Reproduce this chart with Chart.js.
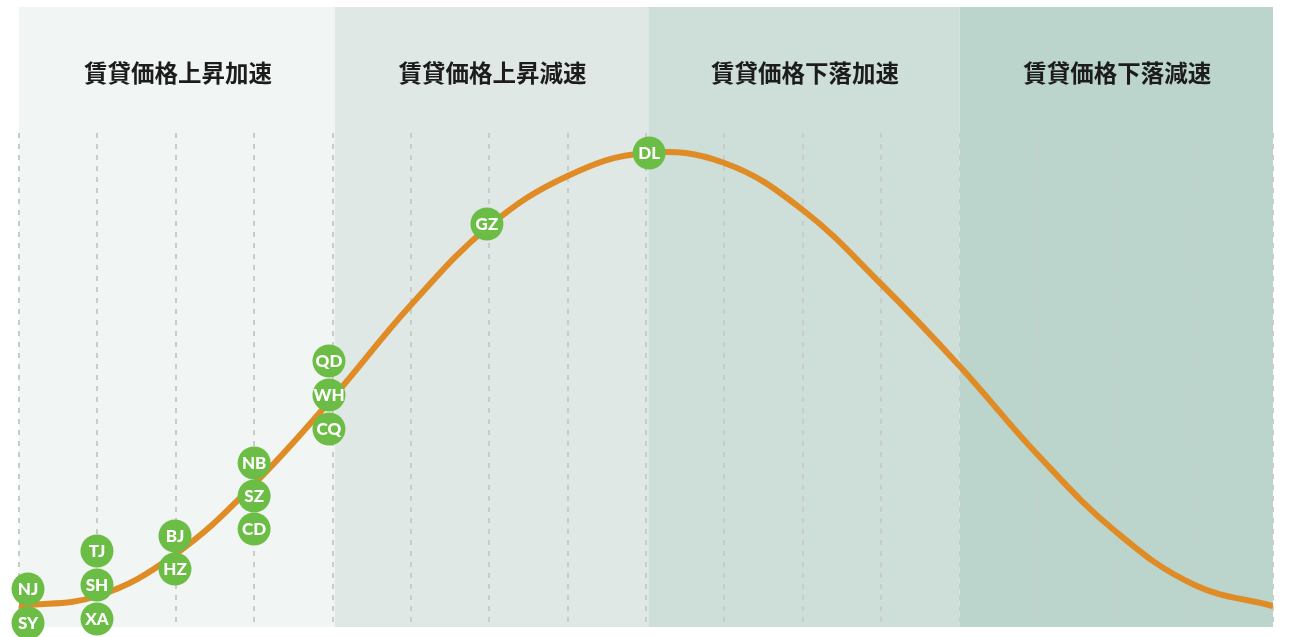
<!DOCTYPE html>
<html>
<head>
<meta charset="utf-8">
<script src="https://cdn.jsdelivr.net/npm/chart.js@4/dist/chart.umd.min.js"></script>
<style>
  html, body { margin: 0; padding: 0; background: #fff; }
  #wrap { width: 1295px; height: 637px; }
</style>
</head>
<body>
<div id="wrap"><canvas id="myChart" width="1295" height="637"></canvas></div>
<script>
// phase bands
const phaseNames = ["賃貸価格上昇加速", "賃貸価格上昇減速", "賃貸価格下落加速", "賃貸価格下落減速"];
const phaseEdges = [0, 4.03, 8.03, 12, 16];
const phaseColors = ["#f1f5f4", "#dfe8e5", "#cedfd9", "#bbd5cc"];

// cycle curve (x step, height)
const curveX = [0, 1, 2, 3, 4, 5, 6, 7, 8, 9, 10, 11, 12, 13, 14, 15, 16];
const curveY = [21, 31, 73, 143, 229, 322, 401, 451, 474, 464, 417, 343, 261, 172, 95, 42, 21];

// cities
const cityCodes = ["NJ", "SY", "TJ", "SH", "XA", "BJ", "HZ", "NB", "SZ", "CD", "QD", "WH", "CQ", "GZ", "DL"];
const cityX = [0.115, 0.115, 0.995, 0.995, 0.995, 1.99, 1.99, 3.0, 3.0, 3.0, 3.955, 3.955, 3.955, 5.97, 8.04];
const cityY = [38, 4, 76, 42, 8, 91, 58, 164, 131, 98, 266, 232, 198, 403, 474];

const ctx = document.getElementById("myChart").getContext("2d");

const bandsPlugin = {
  id: "bands",
  beforeDatasetsDraw(chart) {
    const { ctx, chartArea, scales } = chart;
    const x = scales.x;
    ctx.save();
    for (let i = 0; i < phaseNames.length; i++) {
      const l = x.getPixelForValue(phaseEdges[i]);
      const r = x.getPixelForValue(phaseEdges[i + 1]);
      ctx.fillStyle = phaseColors[i];
      ctx.fillRect(l, chartArea.top, r - l, chartArea.bottom - chartArea.top);
      ctx.fillStyle = "#1c1c1c";
      ctx.font = "bold 23.5px 'Noto Sans CJK JP', 'Noto Sans CJK SC', sans-serif";
      ctx.textAlign = "center";
      ctx.textBaseline = "middle";
      ctx.fillText(phaseNames[i], (l + r) / 2 + 1, 73);
    }
    // dashed grid
    ctx.strokeStyle = "#c8cccb";
    ctx.lineWidth = 2;
    ctx.setLineDash([5, 6]);
    for (let v = 0; v <= 16; v++) {
      const px = Math.round(x.getPixelForValue(v));
      ctx.beginPath();
      ctx.moveTo(px, 133);
      ctx.lineTo(px, chartArea.bottom);
      ctx.stroke();
    }
    ctx.restore();
  },
};

const labelPlugin = {
  id: "cityLabels",
  afterDatasetsDraw(chart) {
    const { ctx } = chart;
    const meta = chart.getDatasetMeta(1);
    ctx.save();
    ctx.fillStyle = "#ffffff";
    ctx.font = "900 17px Lato, 'Open Sans', sans-serif";
    ctx.textAlign = "center";
    ctx.textBaseline = "middle";
    meta.data.forEach((pt, i) => {
      ctx.fillText(cityCodes[i], pt.x, pt.y + 1);
    });
    ctx.restore();
  },
};

new Chart(ctx, {
  type: "line",
  data: {
    datasets: [
      {
        label: "cycle",
        data: curveX.map((v, i) => ({ x: v, y: curveY[i] })),
        borderColor: "#df8c27",
        borderWidth: 6,
        pointRadius: 0,
        fill: false,
        tension: 0.4,
        order: 2,
      },
      {
        label: "cities",
        type: "scatter",
        data: cityX.map((v, i) => ({ x: v, y: cityY[i] })),
        backgroundColor: "#6cbd45",
        borderWidth: 0,
        pointRadius: 16.5,
        pointHoverRadius: 16.5,
        clip: false,
        order: 1,
      },
    ],
  },
  options: {
    responsive: false,
    animation: false,
    layout: { autoPadding: false, padding: { left: 19, right: 22, top: 7, bottom: 10 } },
    scales: {
      x: { type: "linear", min: 0, max: 16, display: false },
      y: { min: 0, max: 620, display: false },
    },
    plugins: {
      legend: { display: false },
      tooltip: { enabled: false },
    },
  },
  plugins: [bandsPlugin, labelPlugin],
});
</script>
</body>
</html>
